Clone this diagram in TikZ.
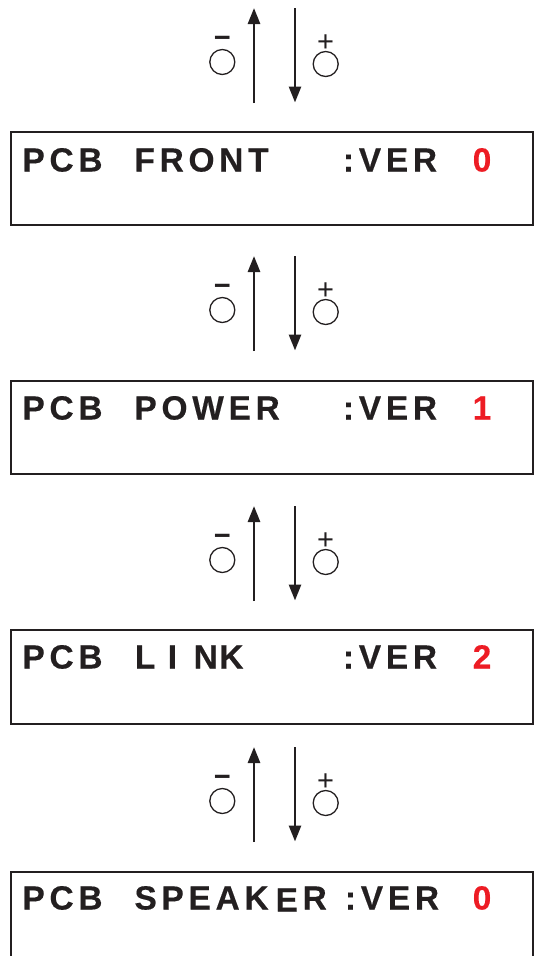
\documentclass[tikz,border=0pt]{standalone}
\usepackage{fontspec}
\usetikzlibrary{arrows.meta}
\newfontfamily\lcdfont[LetterSpace=14,FakeBold=0.3]{Liberation Sans Bold}
\newfontfamily\signfont{Liberation Sans}
\definecolor{inkc}{HTML}{231F20}
\definecolor{verred}{HTML}{ED1C24}
\tikzset{
  lcdbox/.style={draw=inkc, line width=2pt},
  lcdtxt/.style={anchor=base west, inner sep=0pt, outer sep=0pt, text=inkc,
    font=\lcdfont\fontsize{33.5}{40}\selectfont},
  vertxt/.style={lcdtxt, text=verred},
  navarrow/.style={line width=2.7pt, draw=inkc, -{Triangle[length=16pt,width=12pt]}},
  btn/.style={draw=inkc, line width=1.3pt, circle, minimum size=25pt, inner sep=0pt},
  signtxt/.style={anchor=base, inner sep=0pt, text=inkc, font=\signfont\fontsize{29}{30}\selectfont},
  minustxt/.style={anchor=base, inner sep=0pt, text=inkc, font=\signfont\bfseries\fontsize{29}{30}\selectfont},
}
\begin{document}
\begin{tikzpicture}[x=1pt, y=-1pt]
\useasboundingbox (0,0) rectangle (535,956);
\clip (0,0) rectangle (535,956);
% navigation groups
\foreach \g/\t in {1/8, 2/256, 3/506, 4/747}{
  \coordinate (ua\g) at (254,\t+95);
  \coordinate (ub\g) at (254,\t);
  \coordinate (da\g) at (295,\t);
  \coordinate (db\g) at (295,\t+94.5);
  \draw[navarrow] (ua\g) -- (ub\g);
  \draw[navarrow] (da\g) -- (db\g);
  \node[btn] (minusbtn\g) at (222.3,\t+54) {};
  \node[btn] (plusbtn\g) at (325.7,\t+56) {};
  \node[minustxt] (minussign\g) at (222.3,\t+29+10.2) {−};
  \node[signtxt] (plussign\g) at (325.7,\t+33+10.2) {+};
}
% display boxes
\draw[lcdbox] (10.5,132) rectangle (533,224.5);
\draw[lcdbox] (10.5,381) rectangle (533,474);
\draw[lcdbox] (10.5,630) rectangle (533,723.5);
\draw[lcdbox] (10.5,872) rectangle (533,990);
% box 1
\node[lcdtxt] (pcb1) at (22.5,171.5) {PCB};
\node[lcdtxt] (name1) at (134.5,171.5) {FRONT};
\node[lcdtxt] (ver1) at (343,171.5) {:VER};
\node[vertxt] (num1) at (472.7,171.5) {0};
% box 2
\node[lcdtxt] (pcb2) at (22.5,419.5) {PCB};
\node[lcdtxt] (name2) at (134.5,419.5) {POWER};
\node[lcdtxt] (ver2) at (343,419.5) {:VER};
\node[vertxt] (num2) at (472.7,419.5) {1};
% box 3
\node[lcdtxt] (pcb3) at (22.5,668.5) {PCB};
\node[lcdtxt] (name3l) at (134.9,668.5) {L};
\node[lcdtxt] (name3i) at (167.8,668.5) {I};
\node[lcdtxt] (name3n) at (193.6,668.5) {N};
\node[lcdtxt] (name3k) at (219.3,668.5) {K};
\node[lcdtxt] (ver3) at (343,668.5) {:VER};
\node[vertxt] (num3) at (472.7,668.5) {2};
% box 4
\node[lcdtxt] (pcb4) at (22.5,909.5) {PCB};
\node[lcdtxt] (name4) at (134.5,909.5) {SPEAK};
\node[lcdtxt] (name4e) at (275.6,911.5) {E};
\node[lcdtxt] (name4r) at (302.6,909.5) {R};
\node[lcdtxt] (ver4) at (345,909.5) {:VER};
\node[vertxt] (num4) at (472.7,909.5) {0};
\end{tikzpicture}
\end{document}
